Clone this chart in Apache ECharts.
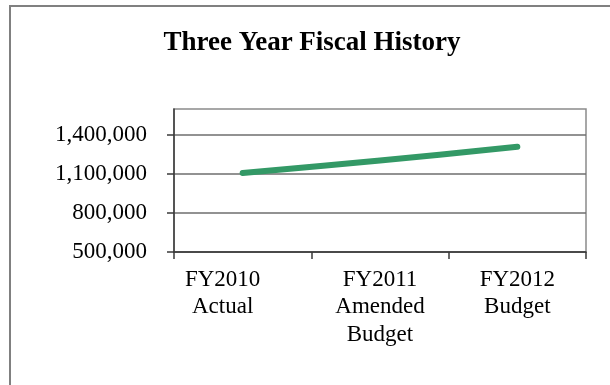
<!DOCTYPE html>
<html>
<head>
<meta charset="utf-8">
<script src="https://cdn.jsdelivr.net/npm/echarts@6/dist/echarts.min.js"></script>
<style>
html,body{margin:0;padding:0;background:#fff;}
#chart{width:610px;height:385px;}
</style>
</head>
<body>
<div id="chart"></div>
<script>
var titleText = 'Three Year Fiscal History';
var categories = ['FY2010\nActual', 'FY2011\nAmended\nBudget', 'FY2012\nBudget'];
var values = [1108000, 1203000, 1310000];
var yTicks = [500000, 800000, 1100000, 1400000];

var chart = echarts.init(document.getElementById('chart'), null, {renderer: 'canvas'});
var serif = '"Liberation Serif", "Times New Roman", serif';

chart.setOption({
  animation: false,
  backgroundColor: '#fff',
  graphic: [{
    type: 'rect',
    shape: {x: 10, y: 6, width: 800, height: 600},
    style: {fill: null, stroke: '#808080', lineWidth: 2},
    z: 0
  }],
  title: {
    text: titleText,
    left: 307, top: 25,
    textAlign: 'center',
    textStyle: {fontFamily: serif, fontWeight: 'bold', fontSize: 27, color: '#000'}
  },
  grid: {
    left: 174, right: 24, top: 109, bottom: 133,
    show: true, borderColor: '#8a8a8a', borderWidth: 1.5,
    containLabel: false
  },
  xAxis: {
    type: 'category',
    data: categories,
    boundaryGap: true,
    axisLine: {show: true, lineStyle: {color: '#3a3a3a', width: 1.5}},
    axisTick: {show: true, length: 7, interval: 0, lineStyle: {color: '#3a3a3a', width: 1.5}},
    axisLabel: {
      interval: 0,
      hideOverlap: false,
      margin: 14,
      fontFamily: serif, fontSize: 23, lineHeight: 27.5, color: '#000',
      formatter: function (v, i) {
        var lines = v.split('\n');
        if (i === 0) return lines.map(function (s) { return '{a|' + s + '}'; }).join('\n');
        return v;
      },
      rich: {a: {fontFamily: serif, fontSize: 23, lineHeight: 27.5, color: '#000', padding: [0, 40, 0, 0]}}
    },
    splitLine: {show: false}
  },
  yAxis: {
    type: 'value',
    min: 500000, max: 1600000, interval: 300000,
    axisLine: {show: true, lineStyle: {color: '#3a3a3a', width: 1.5}},
    axisTick: {show: true, length: 7, customValues: yTicks, lineStyle: {color: '#3a3a3a', width: 1.5}},
    axisLabel: {
      customValues: yTicks,
      margin: 27,
      fontFamily: serif, fontSize: 23, color: '#000',
      formatter: function (v) { return v.toLocaleString('en-US'); }
    },
    splitLine: {show: true, lineStyle: {color: '#6e6e6e', width: 1.5}}
  },
  series: [{
    type: 'line',
    data: values,
    smooth: 0.3,
    symbol: 'none',
    lineStyle: {color: '#339966', width: 6, cap: 'round', join: 'round'},
    z: 5
  }]
});
</script>
</body>
</html>
